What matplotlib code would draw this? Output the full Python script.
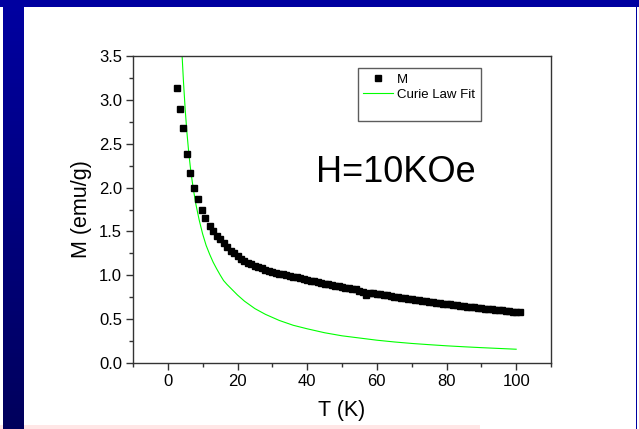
# M vs T with Curie law fit, H = 10 kOe
import matplotlib.pyplot as plt
from matplotlib.ticker import MultipleLocator
from matplotlib.patches import Rectangle
from matplotlib.lines import Line2D
import numpy as np

plt.rcParams['font.family'] = ['Liberation Sans', 'DejaVu Sans']

# Measured magnetization (emu/g) vs temperature (K)
T_meas = [2.7, 3.6, 4.4, 5.4, 6.5, 7.6, 8.7, 9.7, 10.6,
          12, 13, 14, 15, 16, 17, 18, 19, 20, 21, 22, 23, 24, 25, 26, 27, 28, 29, 30,
          31, 32, 33, 34, 35, 36, 37, 38, 39, 40, 41, 42, 43, 44, 45, 46, 47, 48, 49, 50,
          51, 52, 53, 54, 55, 56, 57, 58, 59, 60, 61, 62, 63, 64, 65, 66, 67, 68, 69, 70,
          71, 72, 73, 74, 75, 76, 77, 78, 79, 80, 81, 82, 83, 84, 85, 86, 87, 88, 89, 90,
          91, 92, 93, 94, 95, 96, 97, 98, 99, 100, 101]
M_meas = [3.14, 2.90, 2.68, 2.38, 2.17, 2.00, 1.87, 1.75, 1.65,
          1.56, 1.50, 1.45, 1.41, 1.37, 1.32, 1.28, 1.25, 1.22, 1.19, 1.165, 1.145, 1.125,
          1.105, 1.09, 1.08, 1.065, 1.05, 1.04,
          1.03, 1.02, 1.01, 1.00, 0.99, 0.98, 0.975, 0.965, 0.955, 0.945, 0.937, 0.93,
          0.922, 0.913, 0.905, 0.898, 0.89, 0.882, 0.875, 0.867,
          0.86, 0.853, 0.845, 0.838, 0.825, 0.815, 0.775, 0.80, 0.795, 0.79, 0.785, 0.778,
          0.772, 0.765, 0.758, 0.752, 0.746, 0.74, 0.734, 0.728,
          0.722, 0.716, 0.71, 0.704, 0.699, 0.693, 0.688, 0.682, 0.677, 0.672, 0.667, 0.662,
          0.657, 0.652, 0.647, 0.642, 0.637, 0.633, 0.628, 0.624,
          0.619, 0.615, 0.611, 0.607, 0.603, 0.599, 0.595, 0.591, 0.587, 0.584, 0.58]

# Curie law fit curve
T_fit = [4.0, 4.1, 4.5, 5, 5.5, 6, 6.5, 7, 7.5, 8, 9, 10, 11, 12, 13, 14, 15, 16, 17, 18,
         20, 22, 25, 28, 32, 36, 40, 45, 50, 55, 60, 65, 70, 75, 80, 85, 90, 95, 100]
M_fit = [3.60, 3.50, 3.20, 2.88, 2.62, 2.40, 2.22, 2.07, 1.94, 1.82, 1.63, 1.47, 1.34,
         1.24, 1.15, 1.075, 1.005, 0.94, 0.895, 0.855, 0.775, 0.705, 0.62, 0.555, 0.485,
         0.43, 0.39, 0.345, 0.31, 0.285, 0.26, 0.24, 0.223, 0.209, 0.196, 0.185, 0.175,
         0.166, 0.157]

W, H = 639, 429
fig = plt.figure(figsize=(W / 100, H / 100), dpi=100)
fig.patch.set_facecolor('white')

# Slide-style border decoration
fig.add_artist(Rectangle((0, 1 - 7 / H), 1, 7 / H, transform=fig.transFigure,
                         color='#0000A0', lw=0, zorder=0))
fig.add_artist(Rectangle((636 / W, 0), 1.2 / W, 1, transform=fig.transFigure,
                         color='#0000A0', lw=0, zorder=0))
fig.add_artist(Rectangle((0, 0), 480 / W, 4 / H, transform=fig.transFigure,
                         color='#FFE6E6', lw=0, zorder=0))
band = fig.add_axes([3 / W, 0, 21 / W, 1 - 7 / H])
grad = np.zeros((100, 1, 3))
grad[:, 0, 2] = np.linspace(160, 92, 100) / 255
band.imshow(grad, aspect='auto', extent=[0, 1, 0, 1])
band.set_axis_off()

ax = fig.add_axes([133 / W, 1 - 363 / H, (551 - 133) / W, (363 - 56) / H])
ax.plot(T_meas, M_meas, 's', color='black', markersize=4.9, label='M', zorder=3)
ax.plot(T_fit, M_fit, '-', color='#00FF00', lw=0.8, label='Curie Law Fit', zorder=2)

ax.set_xlim(-10, 110)
ax.set_ylim(0, 3.5)
ax.xaxis.set_major_locator(MultipleLocator(20))
ax.xaxis.set_minor_locator(MultipleLocator(10))
ax.yaxis.set_major_locator(MultipleLocator(0.5))
ax.yaxis.set_minor_locator(MultipleLocator(0.25))
ax.set_xticks([0, 20, 40, 60, 80, 100])
ax.yaxis.set_major_formatter(plt.FormatStrFormatter('%.1f'))
ax.tick_params(which='both', direction='out', top=False, right=False,
               labelsize=12, color='#333333', width=1.0)
ax.tick_params(which='major', length=5, pad=3)
ax.tick_params(which='minor', length=3)
for s in ax.spines.values():
    s.set_color('#333333')
    s.set_linewidth(1.0)

ax.set_xlabel('T (K)', fontsize=15.5, labelpad=8)
ax.set_ylabel('M (emu/g)', fontsize=15.5, labelpad=5)

ax.text(0.628, 0.62, 'H=10KOe', transform=ax.transAxes, fontsize=26,
        ha='center', va='center')

blank = Line2D([], [], color='none')
handles, labels = ax.get_legend_handles_labels()
leg = ax.legend(handles + [blank], labels + [' '], loc='upper left',
                bbox_to_anchor=((357.7 - 133) / (551 - 133), 1 - (68.3 - 56) / (363 - 56)),
                fontsize=9.5, frameon=True, fancybox=False, borderpad=0.4,
                handlelength=2.3, handletextpad=0.3, labelspacing=0.2,
                borderaxespad=0, markerscale=0.75)
leg.get_frame().set_edgecolor('#333333')
leg.get_frame().set_linewidth(1.0)

fig.savefig('out.png', dpi=100)
